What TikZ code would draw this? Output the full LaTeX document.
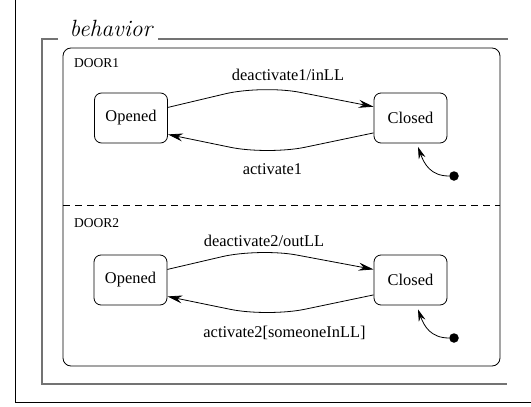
\documentclass[tikz,border=0pt]{standalone}
\usepackage{fontspec}
\newfontfamily\tms{Liberation Serif}
\usetikzlibrary{arrows.meta,calc}
\begin{document}
\begin{tikzpicture}[x=1pt,y=-1pt,
  state/.style={draw,rounded corners=7pt,minimum width=73pt,minimum height=50pt,inner sep=0pt,font=\tms\fontsize{16.4}{18}\selectfont,line width=0.8pt},
  lbl/.style={font=\tms\fontsize{16.4}{18}\selectfont,inner sep=0pt},
  region/.style={font=\tms\fontsize{13.5}{15}\selectfont,inner sep=0pt,anchor=base west},
  trans/.style={line width=0.8pt,-{Stealth[length=15pt,width=8pt,inset=5pt]},rounded corners=38pt},
  inittr/.style={line width=0.8pt,-{Stealth[length=12pt,width=7pt,inset=4pt]}},
  gframe/.style={draw=black!55,line width=1.3pt},
  init/.style={circle,fill=black,inner sep=0pt,minimum size=9.5pt}
]
\useasboundingbox (0,0) rectangle (531,407);
% outer frame
\draw[line width=1pt] (15,0) -- (15,402) -- (531,402);
% behavior frame
\node[font=\itshape\fontsize{23.5}{26}\selectfont,inner sep=0pt,anchor=base] (beh) at (111,36) {behavior};
\draw[gframe] (58,39) -- (42,39) -- (42,384) -- (507,384);
\draw[gframe] (158,39) -- (508,39);
% region box
\draw[rounded corners=8pt,line width=0.8pt] (63,48) rectangle (500,366);
\draw[line width=0.8pt,dash pattern=on 7pt off 5pt] (63,205) -- (500,205);
\node[region] (d1) at (74,67) {DOOR1};
\node[region] (d2) at (74,227) {DOOR2};
% states
\node[state] (o1) at (131,118) {Opened};
\node[state] (c1) at (410.5,118) {Closed};
\node[state] (o2) at (130.5,280) {Opened};
\node[state] (c2) at (410.5,280) {Closed};
% transitions door1
\draw[trans] (o1.16) -- ($(o1)!0.47!(c1)+(0,-33)$) -- (c1.163);
\draw[trans] (c1.202) -- ($(o1)!0.49!(c1)+(0,37)$) -- (o1.336);
\node[lbl] (l1) at (288,75) {deactivate1/inLL};
\node[lbl] (l2) at (272.5,169) {activate1};
% transitions door2
\draw[trans] (o2.16) -- ($(o2)!0.46!(c2)+(0,-32)$) -- (c2.164);
\draw[trans] (c2.202) -- ($(o2)!0.49!(c2)+(0,37)$) -- (o2.336);
\node[lbl] (l3) at (264,241) {deactivate2/outLL};
\node[lbl] (l4) at (284.5,333) {activate2[someoneInLL]};
% initial states
\node[init] (i1) at (454,176) {};
\coordinate (t1) at ($(c1.south)+(7.5,3.5)$);
\draw[inittr] (i1) to[out=180,in=-70,looseness=1.1] (t1);
\node[init] (i2) at (454,338) {};
\coordinate (t2) at ($(c2.south)+(7.5,4)$);
\draw[inittr] (i2) to[out=180,in=-70,looseness=1.1] (t2);
\end{tikzpicture}
\end{document}
